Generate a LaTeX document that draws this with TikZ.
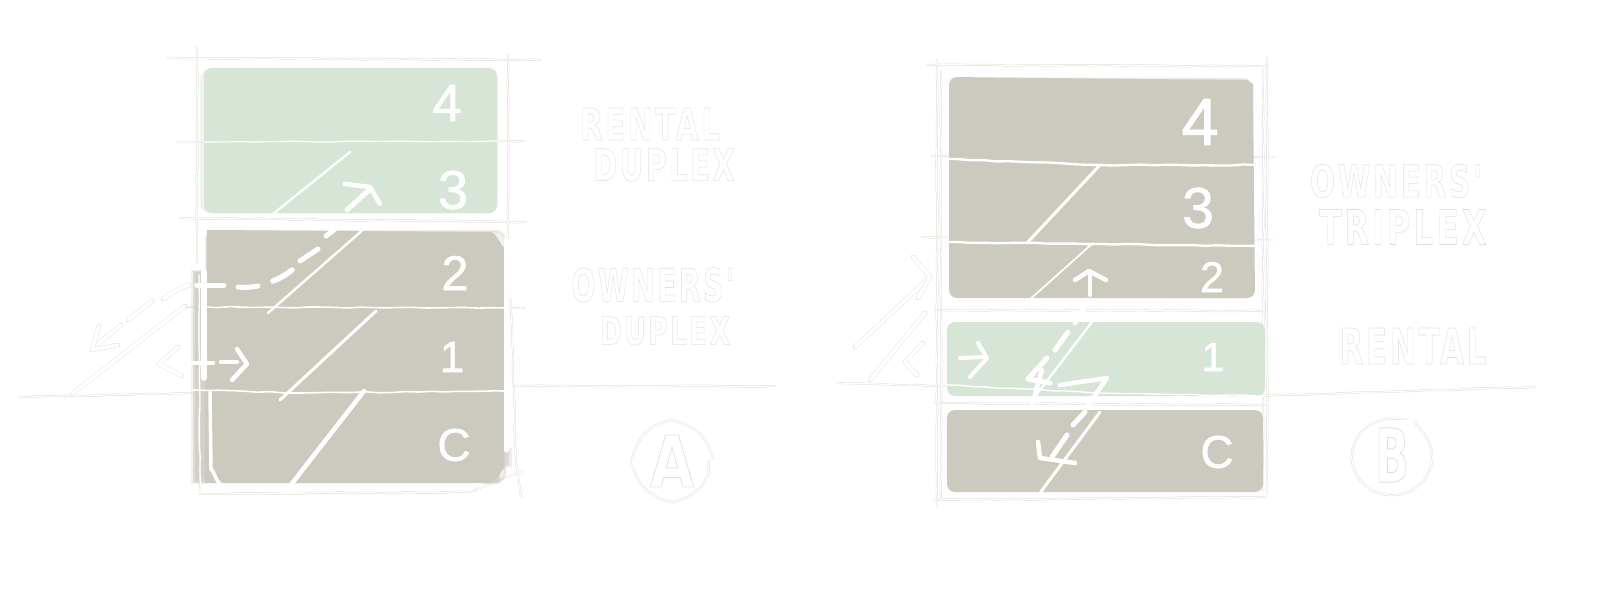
\documentclass[tikz,border=0pt]{standalone}
\usepackage{fontspec}
\usepackage{graphicx}
\usetikzlibrary{decorations.pathmorphing}
\setmainfont{Liberation Sans}
\newfontfamily\handfont{DejaVu Sans}[BoldFont={DejaVu Sans Bold},LetterSpace=9]
\definecolor{stone}{HTML}{CCCABE}
\definecolor{sage}{HTML}{D6E5D5}
\definecolor{pale}{HTML}{E2E0D9}
\newcommand\outl[1]{\special{pdf:code 1 Tr 0.4 w}#1\special{pdf:code 0 Tr 1 w}}
\newcommand\thick[1]{\special{pdf:code 2 Tr 0.5 w}#1\special{pdf:code 0 Tr 1 w}}
\newcommand\hand[7]{\node[handtxt,rotate=#6] (#1) at (#2,#3) {\resizebox{#4pt}{#5pt}{\outl{#7}}};}
\newcommand\digit[5]{\node[digittxt] (#1) at (#2,#3) {\resizebox{!}{#4pt}{\thick{#5}}};}
\tikzset{
  handtxt/.style={inner sep=0pt,outer sep=0pt,text=pale,font=\fontsize{30}{30}\handfont\bfseries},
  digittxt/.style={inner sep=0pt,outer sep=0pt,text=white,font=\fontsize{40}{40}\selectfont},
  wob/.style={decorate,decoration={random steps,segment length=13pt,amplitude=.55pt},rounded corners=1pt},
  sk/.style={wob,draw=pale,double=white,double distance=1.1pt,line width=.5pt,line cap=round},
  outlnd/.style={draw=pale,double=white,double distance=3.6pt,line width=.45pt,line cap=round,line join=round},
  wl/.style={draw=white,line width=#1,line cap=round,line join=round},
  wl/.default=3pt,
  floorln/.style={wob,draw=white,line width=#1,line cap=round},
  floorln/.default=1.5pt,
  soft/.style={fill=#1,draw=#1,opacity=.28,line width=2.5pt,rounded corners=9pt},
  plate/.style={fill=#1,rounded corners=8pt},
  fade/.style={fill=stone,opacity=#1},
}
\begin{document}
\begin{tikzpicture}[x=1pt,y=-1pt]
\pgfmathsetseed{11}
\useasboundingbox[fill=white] (0,0) rectangle (1600,596);

% ---------- panel A: sketch frame ----------
\draw[sk] (168,58) -- (540,60);
\draw[sk] (178,142) -- (525,141);
\draw[sk] (180,218) -- (526,222);
\draw[sk] (197,48) -- (197,262);
\draw[sk] (508,55) -- (508,305);
\draw[sk] (511,300) -- (516,462) -- (521,496);
\draw[sk] (199,494) -- (470,492) -- (521,472);
\draw[sk] (184,307) -- (524,308);
\draw[sk] (20,397) -- (192,393);
\draw[sk] (514,386) -- (775,386);

% fills A
\fill[soft=sage] (201,70) rectangle (497,212);
\fill[plate=sage] (204,68) rectangle (497,213);
\fill[fade=.25] (191,270) rectangle (206,484);
\fill[fade=.5] (193,271) rectangle (206,483);
\fill[fade=.6] (195,272) rectangle (206,481);
\fill[soft=stone] (206,231) rectangle (505,482);
\fill[fade=.3] (500,448) -- (512,448) -- (512,470) to[out=90,in=0] (480,484) -- (500,484) -- cycle;
\fill[fade=.5] (500,448) -- (509,448) -- (509,468) to[out=90,in=0] (480,482) -- (500,482) -- cycle;
\fill[stone] (207,230) -- (490,232) to[out=0,in=-90] (504,246) -- (504,470) to[out=90,in=0] (490,483) -- (205,483) -- cycle;

% white frame strokes A
\draw[sk] (199,275) -- (200,490);
\draw[wl=5.5pt] (204,272) -- (204,378);
\draw[wl=3.5pt] (210,392) -- (211,470) to[out=90,in=180] (224,486) -- (440,487) -- (482,485);
\draw[wl=5pt] (506,240) -- (506,450);

% floor lines A
\draw[floorln=1.2pt] (204,142) -- (497,141);
\draw[floorln=1.6pt] (205,307) -- (504,308);
\draw[floorln=1.6pt] (193,390) -- (300,393) -- (504,391);

% stairs A
\draw[wl=4.5pt] (290,486) -- (364,391);
\draw[wl=3pt] (280,400) -- (376,311);
\draw[wl=2.4pt] (268,313) -- (365,228);
\draw[wl=2.2pt] (268,218) -- (350,152);

% dashed route A
\draw[wl=5pt] (197,285) -- (224,285);
\draw[wl=5pt] (238,287) to[bend right=8] (258,286);
\draw[wl=5.5pt] (273,281) to[bend right=8] (292,270);
\draw[wl=5pt] (300,261) -- (318,249);
\draw[wl=5pt] (326,236) -- (340,225);
\draw[wl=5pt] (347,210) -- (370,189);
\draw[wl=4.5pt] (345,184) -- (370,187) -- (380,204);

% pale arrows A
\draw[outlnd] (189,285) to[bend right=8] (163,299);
\draw[outlnd] (152,301) -- (128,320);
\draw[outlnd] (121,325) -- (94,347);
\draw[outlnd] (99,326) -- (92,350) -- (118,345);
\draw[outlnd] (72,394) -- (185,306);
\draw[outlnd] (178,347) -- (159,364) -- (182,376);
\draw[outlnd] (165,363) -- (192,363);
\draw[wl=4.5pt] (190,363) -- (213,363);
\draw[wl=4.5pt] (221,362) -- (237,362);
\draw[wl=4.5pt] (237,349) -- (247,364) -- (232,380);

% digits A
\digit{a4}{447}{103}{36}{4}
\digit{a3}{453}{190}{38}{3}
\digit{a2}{455}{273}{34}{2}
\digit{a1}{452}{357}{30}{1}
\digit{aC}{454}{445}{32}{C}

% labels A
\hand{rentalA}{650}{124}{140}{32}{0}{RENTAL}
\hand{duplexA}{664}{165}{141}{32}{0}{DUPLEX}
\hand{ownersA}{653}{285}{163}{34}{0}{OWNERS'}
\hand{duplexA2}{665}{331}{130}{28}{0}{DUPLEX}

% circle A
\draw[sk] (672,461) circle (37);
\hand{markA}{672}{461}{44}{52}{0}{A}

% ---------- panel B: sketch frame ----------
\draw[sk] (928,65) -- (1267,66);
\draw[sk] (932,156) -- (1275,157);
\draw[sk] (922,237) -- (1272,240);
\draw[sk] (937,60) -- (937,507);
\draw[sk] (941,72) -- (941,500);
\draw[sk] (1267,58) -- (1267,493);
\draw[sk] (1263,70) -- (1263,490);
\draw[sk] (935,310) -- (1265,311);
\draw[sk] (935,403) -- (1265,405);
\draw[sk] (935,500) -- (1265,497);
\draw[sk] (838,383) -- (945,386);
\draw[sk] (1262,396) -- (1535,387);

% fills B
\fill[soft=stone] (950,79) rectangle (1252,297);
\fill[plate=stone] (949,77) -- (1240,80) to[out=0,in=90] (1253,92) -- (1255,298) -- (949,298) -- cycle;
\fill[soft=sage] (949,324) rectangle (1263,393);
\fill[plate=sage] (947,322) rectangle (1265,396);
\fill[soft=stone] (949,412) rectangle (1261,490);
\fill[plate=stone] (947,410) rectangle (1263,492);

% white strokes B
\draw[wl=4pt] (945,300) -- (1248,301);
\draw[wl=3.5pt] (955,318) -- (1262,319);

% floor lines B
\draw[floorln=2.4pt] (944,159) -- (1100,165) -- (1258,165);
\draw[floorln=2.4pt] (944,242) -- (1100,244) -- (1258,246);
\draw[floorln=1.4pt] (947,385) -- (1100,393) -- (1265,396);

% stairs B
\draw[wl=3pt] (1027,243) -- (1100,165);
\draw[wl=1.8pt] (1018,310) -- (1093,243);
\draw[wl=2.4pt] (1030,403) -- (1092,322);
\draw[wl=3pt] (1037,497) -- (1100,412);

% route B
\draw[wl=4pt] (1090,295) -- (1090,272);
\draw[wl=4.5pt] (1075,280) -- (1089,271) -- (1106,280);
\draw[wl=5pt] (1088,300) -- (1075,323);
\draw[wl=5pt] (1068,332) -- (1055,350);
\draw[wl=5pt] (1047,358) -- (1028,379) -- (1050,383);
\draw[wl=4.5pt] (1042,370) -- (1032,405);
\draw[wl=4.5pt] (1060,385) -- (1107,378) -- (1087,407);
\draw[wl=5pt] (1085,412) -- (1073,425);
\draw[wl=5pt] (1067,435) -- (1052,457);
\draw[wl=4.5pt] (1038,442) -- (1040,458) -- (1075,463);
\draw[wl=4pt] (960,358) -- (985,357);
\draw[wl=4pt] (978,343) -- (987,358) -- (970,377);

% pale arrows B
\draw[outlnd] (923,343) -- (905,362) -- (917,375);
\draw[outlnd] (910,360) -- (940,360);
\draw[outlnd] (870,380) -- (925,313);
\draw[outlnd] (855,347) -- (930,277);
\draw[outlnd] (913,257) -- (930,277) -- (918,298);

% digits B
\digit{b4}{1200}{122}{46}{4}
\digit{b3}{1198}{208}{40}{3}
\digit{b2}{1212}{277}{30}{2}
\digit{b1}{1213}{357}{28}{1}
\digit{bC}{1217}{452}{32}{C}

% labels B
\hand{ownersB}{1396}{181}{172}{33}{0}{OWNERS'}
\hand{triplexB}{1403}{227}{167}{35}{0}{TRIPLEX}
\hand{rentalB}{1413}{346}{147}{36}{0}{RENTAL}

% circle B
\draw[sk] plot[smooth,domain=-55:290,samples=36] ({1392+40*cos(\x)},{457+38*sin(\x)});
\hand{markB}{1392}{455}{34}{54}{0}{B}
\end{tikzpicture}
\end{document}
